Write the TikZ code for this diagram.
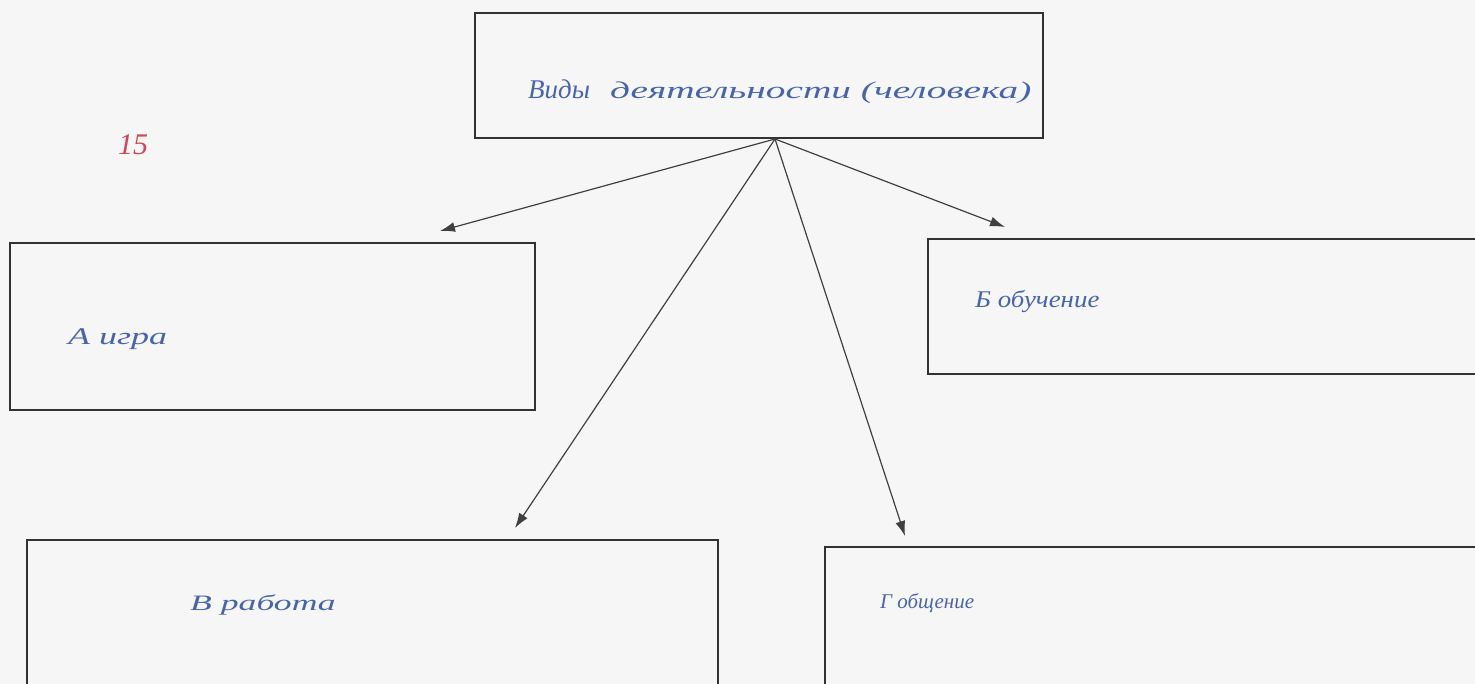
\documentclass[tikz,border=0pt]{standalone}
\usepackage{fontspec}
\setmainfont{Liberation Serif}
\usetikzlibrary{arrows.meta}
\definecolor{ink}{RGB}{70,100,175}
\definecolor{redink}{RGB}{215,70,80}
\definecolor{frame}{RGB}{50,50,50}
\definecolor{paper}{RGB}{246,246,246}
\tikzset{
  box/.style={draw=frame, line width=1.8pt, inner sep=0pt},
  hand/.style={text=ink, font=\itshape\fontsize{24}{28}\selectfont, inner sep=0pt, anchor=base west},
  link/.style={draw=black!75, line width=1.2pt, -{Latex[length=15pt,width=10pt]}}
}
\begin{document}
\begin{tikzpicture}[x=1pt,y=-1pt]
\fill[paper] (0,0) rectangle (1475,684);
\useasboundingbox (0,0) rectangle (1475,684);
\node[box, minimum width=568pt, minimum height=125pt] (top) at (759,75.5) {};
\node[box, minimum width=525pt, minimum height=167pt] (a) at (272.5,326.5) {};
\node[box, minimum width=552pt, minimum height=135pt] (b) at (1204,306.5) {};
\node[box, minimum width=691pt, minimum height=150pt] (v) at (372.5,615) {};
\node[box, minimum width=657pt, minimum height=143pt] (g) at (1153.5,618.5) {};
\coordinate (src) at (775,139);
\coordinate (ta) at (440,231);
\coordinate (tb) at (1005,227);
\coordinate (tv) at (515,528);
\coordinate (tg) at (905,536);
\draw[link] (src) -- (ta);
\draw[link] (src) -- (tb);
\draw[link] (src) -- (tv);
\draw[link] (src) -- (tg);
\node[hand, font=\itshape\fontsize{27}{30}\selectfont] (t1) at (528,99) {\scalebox{1.0}[1]{Виды}};
\node[hand] (t2) at (610,99) {\scalebox{1.64}[1]{деятельности (человека)}};
\node[hand] (la) at (68,345) {\scalebox{1.5}[1]{А игра}};
\node[hand] (lb) at (975,308) {\scalebox{1.12}[1]{Б обучение}};
\node[hand, font=\itshape\fontsize{22}{26}\selectfont] (lv) at (190,610) {\scalebox{1.62}[1]{В работа}};
\node[hand, font=\itshape\fontsize{21}{25}\selectfont] (lg) at (880,608) {\scalebox{1.0}[1]{Г общение}};
\node[text=redink, font=\itshape\fontsize{30}{34}\selectfont, inner sep=0pt, anchor=base west] (score) at (118,155) {15};
\end{tikzpicture}
\end{document}
